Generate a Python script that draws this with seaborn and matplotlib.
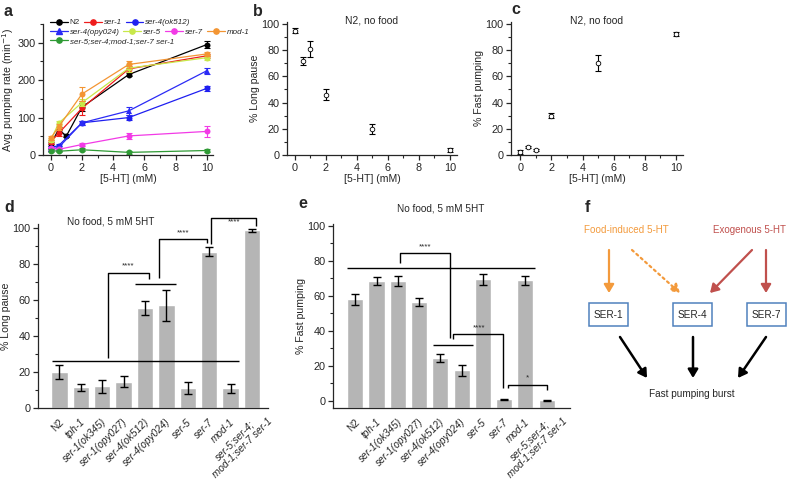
import numpy as np
import matplotlib.pyplot as plt
from matplotlib.lines import Line2D
from matplotlib.patches import FancyArrowPatch, Rectangle
from matplotlib.ticker import MultipleLocator
import matplotlib.transforms as mtransforms
import seaborn as sns

sns.set_style("ticks")
plt.rcParams['font.family'] = ['Liberation Sans', 'DejaVu Sans']
plt.rcParams['font.size'] = 7
plt.rcParams['axes.linewidth'] = 0.9
plt.rcParams['xtick.major.width'] = 0.9
plt.rcParams['ytick.major.width'] = 0.9
plt.rcParams['xtick.minor.width'] = 0.8
plt.rcParams['ytick.minor.width'] = 0.8

# ---------------- data ----------------
# panel a: pumping rate vs 5-HT dose
dose_n2 = [0, 0.5, 1, 2, 5, 10]
dose = [0, 0.5, 2, 5, 10]
rate_n2 = [30, 68, 51, 128, 215, 295]
err_n2 = [6, 8, 4, 10, 5, 10]
rate_ser1 = [35, 58, 125, 230, 265]
err_ser1 = [6, 8, 18, 8, 6]
rate_ser4_ok512 = [20, 25, 86, 100, 178]
err_ser4_ok512 = [4, 5, 5, 7, 6]
rate_ser4_opy024 = [16, 20, 86, 118, 225]
err_ser4_opy024 = [4, 4, 5, 10, 8]
rate_ser5 = [40, 85, 140, 232, 260]
err_ser5 = [6, 6, 10, 10, 6]
rate_ser7 = [18, 15, 28, 51, 63]
err_ser7 = [4, 3, 4, 8, 15]
rate_mod1 = [45, 75, 163, 242, 270]
err_mod1 = [6, 8, 20, 10, 6]
rate_quint = [12, 10, 14, 7, 12]
err_quint = [3, 2, 4, 3, 3]

# panels b, c: N2, no food
dose_bc = [0, 0.5, 1, 2, 5, 10]
long_pause_b = [95, 72, 81, 46, 20, 4]
long_pause_b_err = [2, 3, 6, 4, 4, 1.5]
fast_pump_c = [2, 6, 4, 30, 70, 92]
fast_pump_c_err = [1.5, 1, 0.8, 2, 6, 1.5]

# panels d, e: strains, no food, 5 mM 5HT
strains = ['N2', 'tph-1', 'ser-1(ok345)', 'ser-1(opy027)', 'ser-4(ok512)',
           'ser-4(opy024)', 'ser-5', 'ser-7', 'mod-1', 'ser-5;ser-4;\nmod-1;ser-7 ser-1']
long_pause_d = [20, 11.5, 12, 14.5, 55.5, 57, 11, 86.5, 11, 98.5]
long_pause_d_err = [4, 2, 3.5, 3, 4, 8.5, 3.5, 2.5, 2.5, 0.8]
fast_pump_e = [58, 68.5, 68.5, 56.5, 24.5, 17.5, 69.5, 1, 69, 0.5]
fast_pump_e_err = [3, 2.5, 3, 2.5, 2.5, 3, 3, 0.3, 2.5, 0.3]

W, H = 788, 480
fig = plt.figure(figsize=(W / 100, H / 100), dpi=100)


def px_rect(x0, y0, x1, y1):
    return [x0 / W, 1 - y1 / H, (x1 - x0) / W, (y1 - y0) / H]


def style_axes(ax):
    sns.despine(ax=ax)
    ax.tick_params(which='major', length=3.5, labelsize=7.8, pad=2)
    ax.tick_params(which='minor', length=2)


def panel_letter(x, y, s):
    fig.text(x / W, 1 - y / H, s, fontsize=11.5, fontweight='bold', va='center', ha='left')


# ============================================================
# a. pumping rate
# ============================================================
ax = fig.add_axes(px_rect(43, 24, 213, 155))
series = [
    ('N2', dose_n2, rate_n2, err_n2, 'black', 'o'),
    ('ser-1', dose, rate_ser1, err_ser1, '#ee1c1c', 'o'),
    ('ser-4(ok512)', dose, rate_ser4_ok512, err_ser4_ok512, '#1f1ff0', 'o'),
    ('ser-4(opy024)', dose, rate_ser4_opy024, err_ser4_opy024, '#2b2bf5', '^'),
    ('ser-5', dose, rate_ser5, err_ser5, '#c8e84a', 'o'),
    ('ser-7', dose, rate_ser7, err_ser7, '#f23ae6', 'o'),
    ('mod-1', dose, rate_mod1, err_mod1, '#f39533', 'o'),
    ('ser-5;ser-4;mod-1;ser-7 ser-1', dose, rate_quint, err_quint, '#2f9a35', 'o'),
]
handles = {}
for name, xs, ys, es, col, mk in series:
    ax.errorbar(xs, ys, yerr=es, fmt='none', ecolor=col, elinewidth=0.8, capsize=2, capthick=0.8)
    sns.lineplot(x=xs, y=ys, color=col, marker=mk, markersize=4.3, markeredgewidth=0,
                 linewidth=0.9, ax=ax)
    handles[name] = Line2D([], [], color=col, marker=mk, markersize=3.8, linewidth=0.9)

ax.set_xlim(-0.5, 10.4)
ax.set_ylim(0, 350)
ax.xaxis.set_major_locator(MultipleLocator(2))
ax.xaxis.set_minor_locator(MultipleLocator(1))
ax.yaxis.set_major_locator(MultipleLocator(100))
ax.yaxis.set_minor_locator(MultipleLocator(50))
ax.set_xlabel('[5-HT] (mM)', fontsize=7.6, labelpad=1)
ax.set_ylabel('Avg. pumping rate (min$^{-1}$)', fontsize=7.6, labelpad=1)
style_axes(ax)

# legend split in three rows, like the original
rows = [['N2', 'ser-1', 'ser-4(ok512)'],
        ['ser-4(opy024)', 'ser-5', 'ser-7', 'mod-1'],
        ['ser-5;ser-4;mod-1;ser-7 ser-1']]
for i, row in enumerate(rows):
    leg = ax.legend([handles[n] for n in row], row, ncol=len(row), frameon=False,
                    loc='upper left', bbox_to_anchor=(0.04, 1.04 - i * 0.07),
                    fontsize=5.8, handlelength=2.2, handletextpad=0.25,
                    columnspacing=0.5, borderaxespad=0, borderpad=0)
    for t in leg.get_texts():
        if t.get_text() != 'N2':
            t.set_fontstyle('italic')
    ax.add_artist(leg)
ax.legend_ = None

# ============================================================
# b, c. N2, no food
# ============================================================
for rect, yvals, yerr, ylab in [((287, 22, 457, 155), long_pause_b, long_pause_b_err, '% Long pause'),
                                ((511, 22, 683, 155), fast_pump_c, fast_pump_c_err, '% Fast pumping')]:
    ax = fig.add_axes(px_rect(*rect))
    ax.errorbar(dose_bc, yvals, yerr=yerr, fmt='none', ecolor='black', elinewidth=0.8,
                capsize=2.2, capthick=0.8)
    sns.scatterplot(x=dose_bc, y=yvals, marker='o', s=11, facecolor='white',
                    edgecolor='black', linewidth=0.6, zorder=3, ax=ax)
    ax.set_xlim(-0.5 if rect[0] < 300 else -0.6, 10.45)
    ax.set_ylim(0, 101.5)
    ax.xaxis.set_major_locator(MultipleLocator(2))
    ax.xaxis.set_minor_locator(MultipleLocator(1))
    ax.yaxis.set_major_locator(MultipleLocator(20))
    ax.yaxis.set_minor_locator(MultipleLocator(10))
    ax.set_xlabel('[5-HT] (mM)', fontsize=7.6, labelpad=1)
    ax.set_ylabel(ylab, fontsize=7.6, labelpad=1)
    ax.text(0.5, 1.01, 'N2, no food', transform=ax.transAxes, ha='center', va='center', fontsize=7.4)
    style_axes(ax)


# ============================================================
# d, e. bar charts
# ============================================================
def bar_panel(rect, vals, errs, ylab, ylim, xlim, title_xy):
    ax = fig.add_axes(px_rect(*rect))
    sns.barplot(x=strains, y=vals, color='#b5b5b5', width=0.76, saturation=1,
                errorbar=None, ax=ax)
    # bars rise from the bottom of the axis
    for p in ax.patches:
        p.set_y(ylim[0])
        p.set_height(p.get_height() - ylim[0])
    ax.errorbar(range(len(vals)), vals, yerr=errs, fmt='none', ecolor='black',
                elinewidth=1, capsize=2.8, capthick=1)
    ax.set_xlim(*xlim)
    ax.set_ylim(*ylim)
    ax.yaxis.set_major_locator(MultipleLocator(20))
    ax.yaxis.set_minor_locator(MultipleLocator(10))
    ax.set_ylabel(ylab, fontsize=7.6, labelpad=1)
    ax.set_xlabel('')
    style_axes(ax)
    ax.tick_params(axis='x', length=0, pad=6.5)
    ax.set_xticks(range(len(strains)))
    ax.set_xticklabels(strains, rotation=45, ha='right', va='top', rotation_mode='anchor',
                       fontsize=7.2, linespacing=1.0, multialignment='center')
    labels = ax.get_xticklabels()
    for i, t in enumerate(labels):
        dx, dy = -1, 0
        if i == len(labels) - 1:
            dx, dy = 8, 8
        t.set_transform(t.get_transform() +
                        mtransforms.ScaledTranslation(dx / 100, dy / 100, fig.dpi_scale_trans))
        if t.get_text() != 'N2':
            t.set_fontstyle('italic')
    ax.text(title_xy[0], title_xy[1], 'No food, 5 mM 5HT', ha='center', va='center',
            fontsize=7.2, clip_on=False)
    return ax


def bracket(ax, xs, ys, lw=1.0):
    ax.plot(xs, ys, color='black', lw=lw, clip_on=False, solid_capstyle='butt')


ax = bar_panel((38, 224, 268, 408), long_pause_d, long_pause_d_err, '% Long pause',
               (0, 102), (-1.0, 9.75), (2.4, 103.5))
bracket(ax, [-0.35, 8.4], [26, 26])
bracket(ax, [2.28, 2.28, 4.19, 4.19], [27.5, 75, 75, 71.5])
ax.text(3.2, 77, '****', ha='center', va='bottom', fontsize=5.8)
bracket(ax, [3.53, 5.44], [68.5, 68.5])
bracket(ax, [4.65, 4.65, 6.9, 6.9], [72, 93.5, 93.5, 91.5])
ax.text(5.8, 95, '****', ha='center', va='bottom', fontsize=5.8)
bracket(ax, [7.1, 7.1, 9.2, 9.2], [91, 105.5, 105.5, 100.8])
ax.text(8.15, 101, '****', ha='center', va='bottom', fontsize=5.8)

ax = bar_panel((333, 224, 570, 408), fast_pump_e, fast_pump_e_err, '% Fast pumping',
               (-4, 101.1), (-1.05, 10.1), (4.0, 110))
bracket(ax, [-0.38, 8.45], [76, 76])
bracket(ax, [2.1, 2.1, 4.46, 4.46], [79, 84.6, 84.6, 36])
ax.text(3.3, 86, '****', ha='center', va='bottom', fontsize=5.8)
bracket(ax, [3.66, 5.54], [32, 32])
bracket(ax, [4.6, 4.6, 6.95, 6.95], [35.4, 38, 38, 7.5])
ax.text(5.8, 39.5, '****', ha='center', va='bottom', fontsize=5.8)
bracket(ax, [7.18, 7.18, 9.0, 9.0], [7.5, 9.3, 9.3, 6])
ax.text(8.1, 11, '*', ha='center', va='bottom', fontsize=5.8)

# ============================================================
# f. schematic
# ============================================================
fax = fig.add_axes([0, 0, 1, 1], zorder=-1)
fax.set_xlim(0, W)
fax.set_ylim(H, 0)
fax.set_axis_off()
fax.patch.set_alpha(0)

orange = '#f39a3c'
red = '#c0504d'
box_blue = '#4f81bd'
fax.text(626, 230, 'Food-induced 5-HT', color=orange, ha='center', va='center', fontsize=7.1)
fax.text(749, 230, 'Exogenous 5-HT', color=red, ha='center', va='center', fontsize=7.0)
for cx, name in [(608.5, 'SER-1'), (692.5, 'SER-4'), (766.5, 'SER-7')]:
    fax.add_patch(Rectangle((cx - 19.5, 303), 39, 23, facecolor='white',
                            edgecolor=box_blue, lw=1.1))
    fax.text(cx, 314.5, name, ha='center', va='center', fontsize=7.2)


def arrow(p0, p1, color, ls='-', lw=1.6):
    fax.add_patch(FancyArrowPatch(p0, p1, arrowstyle='-|>,head_length=5,head_width=3',
                                  color=color, lw=lw, linestyle=ls, mutation_scale=1,
                                  shrinkA=0, shrinkB=0))


arrow((609, 250), (609, 293), orange)
arrow((632, 250), (680, 293), orange, ls=':')
arrow((752, 250), (710, 293), red)
arrow((766, 250), (766, 293), red)
arrow((620, 337), (647, 378), 'black', lw=1.8)
arrow((693, 337), (693, 378), 'black', lw=1.8)
arrow((766, 337), (738, 378), 'black', lw=1.8)
fax.text(692, 394, 'Fast pumping burst', ha='center', va='center', fontsize=7.2)

panel_letter(4, 12, 'a')
panel_letter(253, 12, 'b')
panel_letter(511, 10, 'c')
panel_letter(4, 207, 'd')
panel_letter(298, 204, 'e')
panel_letter(585, 207, 'f')

plt.savefig('out.png', dpi=100)
plt.close()
